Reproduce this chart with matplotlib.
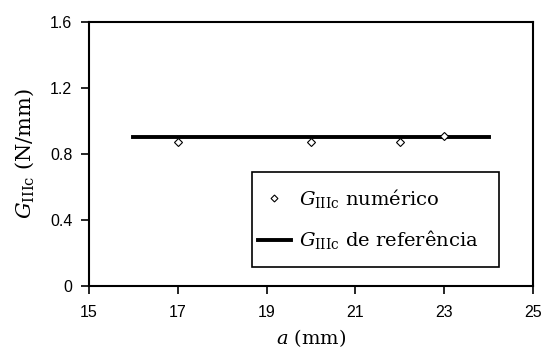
import matplotlib
matplotlib.use("Agg")
import matplotlib.pyplot as plt
from matplotlib.patches import Rectangle

a_num = [17, 20, 22, 23]
G_num = [0.87, 0.87, 0.87, 0.91]
a_ref = [16, 24]
G_ref = [0.905, 0.905]
xticks = [15, 17, 19, 21, 23, 25]
yticks = [0, 0.4, 0.8, 1.2, 1.6]
yticklabels = ["0", "0.4", "0.8", "1.2", "1.6"]

plt.rcParams['font.family'] = ['Liberation Sans', 'DejaVu Sans']
plt.rcParams['mathtext.fontset'] = 'custom'
plt.rcParams['mathtext.rm'] = 'DejaVu Serif'
plt.rcParams['mathtext.it'] = 'DejaVu Serif:italic'

W, H = 544, 349
fig = plt.figure(figsize=(W/100, H/100), dpi=100)
L, R, T, B = 89, 533, 22, 286
ax = fig.add_axes([L/W, 1-B/H, (R-L)/W, (B-T)/H])

ax.plot(a_num, G_num, linestyle='none', marker='D', markersize=4.5,
        markerfacecolor='white', markeredgecolor='black', markeredgewidth=0.8,
        label=r'$G_{\mathrm{IIIc}}$ numérico', zorder=3)
ax.plot(a_ref, G_ref, color='black', linewidth=2.8,
        label=r'$G_{\mathrm{IIIc}}$ de referência', zorder=2)

ax.set_xlim(15, 25)
ax.set_ylim(0, 1.6)
ax.set_xticks(xticks)
ax.set_xticklabels([str(t) for t in xticks])
ax.set_yticks(yticks)
ax.set_yticklabels(yticklabels)
ax.tick_params(direction='out', length=6, width=1.2, color='black', labelsize=11.5)
ax.tick_params(axis='y', pad=6)
ax.tick_params(axis='x', pad=8)
for s in ax.spines.values():
    s.set_linewidth(1.5)

ax.set_xlabel(r'$a$ (mm)', family='DejaVu Serif', fontsize=14, labelpad=5)
ax.set_ylabel(r'$G_{\mathrm{IIIc}}$ (N/mm)', family='DejaVu Serif', fontsize=15, labelpad=10)

# legend box
bx0, bx1, by0, by1 = 252, 499, 172, 267
fx = lambda px: (px - L) / (R - L)
fy = lambda py: (B - py) / (B - T)
box = Rectangle((fx(bx0), fy(by1)), fx(bx1) - fx(bx0), fy(by0) - fy(by1),
                transform=ax.transAxes, facecolor='white', edgecolor='black',
                linewidth=1.2, zorder=4, clip_on=False)
ax.add_patch(box)

leg = ax.legend(loc='upper left',
                bbox_to_anchor=(fx(bx0), fy(by0 + 9), fx(bx1) - fx(bx0), 0),
                mode='expand', frameon=False,
                prop={'family': 'DejaVu Serif', 'size': 14}, handlelength=1.7,
                borderpad=0.3, labelspacing=0.95, handletextpad=0.4, borderaxespad=0)
leg.set_zorder(5)
leg.legend_handles[0].set_markersize(3.5)

fig.savefig('out.png', dpi=100, facecolor='white')
